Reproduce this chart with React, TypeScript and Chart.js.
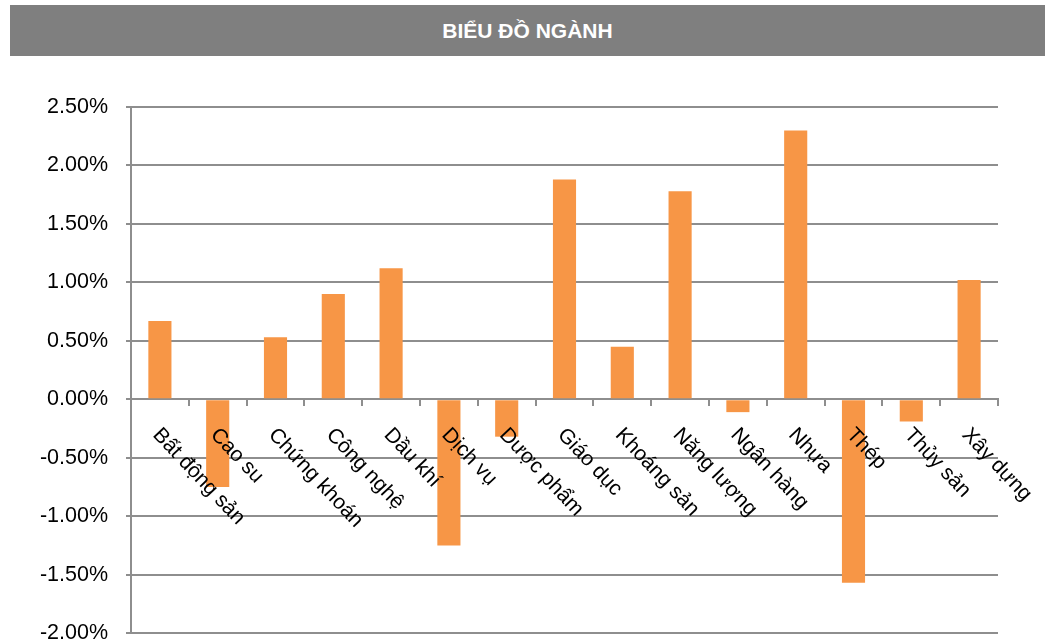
import React, { useEffect, useRef } from 'react';
import { Chart, registerables } from 'chart.js';

Chart.register(...registerables);

const chartTitle = 'BIỂU ĐỒ NGÀNH';
const categories = [
  'Bất động sản',
  'Cao su',
  'Chứng khoán',
  'Công nghệ',
  'Dầu khí',
  'Dịch vụ',
  'Dược phẩm',
  'Giáo dục',
  'Khoáng sản',
  'Năng lượng',
  'Ngân hàng',
  'Nhựa',
  'Thép',
  'Thủy sản',
  'Xây dựng',
];
const values = [0.67, -0.75, 0.53, 0.9, 1.12, -1.25, -0.32, 1.88, 0.45, 1.78, -0.11, 2.3, -1.57, -0.19, 1.02];
const yMin = -2;
const yMax = 2.5;
const yStep = 0.5;

const FONT = '"Liberation Sans", Arial, sans-serif';
const GRID = '#8e8e8e';
const BAR = '#F79646';

const rotatedLabels = {
  id: 'rotatedLabels',
  afterDatasetsDraw(chart: any) {
    const { ctx } = chart;
    const x = chart.scales.x;
    const y = chart.scales.y;
    const y0 = y.getPixelForValue(0);
    ctx.save();
    ctx.font = `21px ${FONT}`;
    ctx.fillStyle = '#000000';
    ctx.textAlign = 'left';
    ctx.textBaseline = 'top';
    categories.forEach((c, i) => {
      const px = x.getPixelForValue(i);
      ctx.save();
      ctx.translate(px + 4, y0 + 25);
      ctx.rotate(Math.PI / 4 + 0.03);
      ctx.fillText(c, 0, 0);
      ctx.restore();
    });
    ctx.restore();
  },
};

export default function App() {
  const canvasRef = useRef<HTMLCanvasElement | null>(null);

  useEffect(() => {
    if (!canvasRef.current) return;
    const chart = new Chart(canvasRef.current, {
      type: 'bar',
      data: {
        labels: categories,
        datasets: [
          {
            data: values,
            backgroundColor: BAR,
            borderWidth: 0,
            barPercentage: 0.4,
            categoryPercentage: 1,
          },
        ],
      },
      options: {
        animation: false,
        responsive: true,
        maintainAspectRatio: false,
        layout: { padding: { top: 51, bottom: 0, left: 0, right: 55 } },
        plugins: {
          legend: { display: false },
          title: { display: false },
          tooltip: { enabled: false },
        },
        scales: {
          x: {
            type: 'category',
            position: { y: 0 } as any,
            grid: {
              display: true,
              drawOnChartArea: false,
              drawTicks: true,
              tickLength: 6,
              color: GRID,
              lineWidth: 2,
              offset: true,
            },
            border: { display: true, color: GRID, width: 2 },
            ticks: { display: false },
          },
          y: {
            min: yMin,
            max: yMax,
            grid: {
              color: GRID,
              lineWidth: 2,
              drawTicks: true,
              tickLength: 5,
            },
            border: { display: true, color: GRID, width: 2 },
            ticks: {
              stepSize: yStep,
              padding: 18,
              color: '#000000',
              font: { family: FONT, size: 21.5 },
              callback: (v: any) => Number(v).toFixed(2) + '%',
            },
            afterFit: (scale: any) => {
              scale.width = 131;
            },
          },
        },
      },
      plugins: [rotatedLabels],
    });
    return () => chart.destroy();
  }, []);

  return (
    <div style={{ position: 'fixed', left: 0, top: 0, width: 1053, height: 642, background: '#ffffff', overflow: 'hidden' }}>
      <div
        style={{
          position: 'absolute',
          left: 10,
          top: 5,
          width: 1035,
          height: 51,
          background: '#7f7f7f',
          color: '#ffffff',
          fontFamily: FONT,
          fontWeight: 'bold',
          fontSize: 21,
          display: 'flex',
          alignItems: 'center',
          justifyContent: 'center',
        }}
      >
        {chartTitle}
      </div>
      <div style={{ position: 'absolute', left: 0, top: 56, width: 1053, height: 608 }}>
        <canvas ref={canvasRef} />
      </div>
    </div>
  );
}
